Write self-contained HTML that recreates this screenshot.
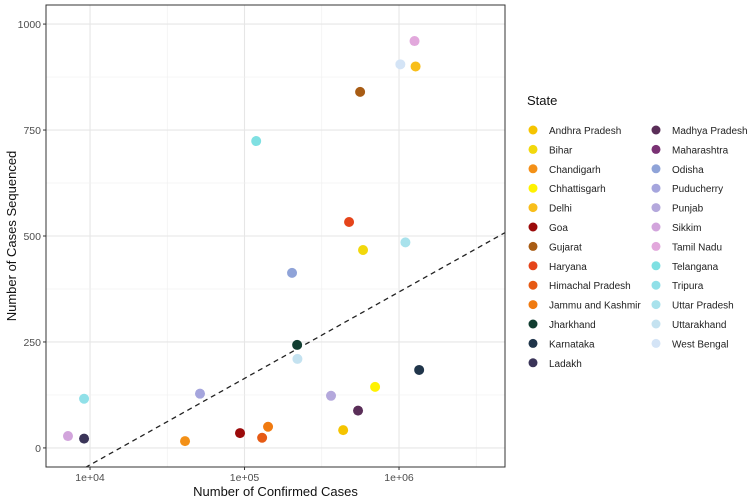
<!DOCTYPE html>
<html><head><meta charset="utf-8"><style>
body{margin:0;background:#fff;font-family:"Liberation Sans",sans-serif}
svg{display:block}
</style></head><body>
<svg id="c" width="750" height="501"></svg>
<script>
const states=["Andhra Pradesh","Bihar","Chandigarh","Chhattisgarh","Delhi","Goa","Gujarat","Haryana","Himachal Pradesh","Jammu and Kashmir","Jharkhand","Karnataka","Ladakh","Madhya Pradesh","Maharashtra","Odisha","Puducherry","Punjab","Sikkim","Tamil Nadu","Telangana","Tripura","Uttar Pradesh","Uttarakhand","West Bengal"];
const colors=["#F5C400","#F2D80C","#F39017","#FFF200","#F8BE1A","#9B0A0A","#A85C14","#E5441A","#E65A14","#F07A10","#113D30","#20354A","#3A3458","#5A2E58","#7A3274","#8FA3D8","#A5A5DD","#B4A8DC","#D2A4DC","#E2A8DC","#7FE0E2","#90E0E8","#A8E2EC","#C4E2F0","#D4E4F6"];
const confirmed=[435000,585000,41200,700000,1280000,93500,560000,475000,130000,142000,219000,1350000,9150,543000,null,203000,51500,363000,7200,1260000,119000,9150,1100000,220000,1020000];
const sequenced=[42,467,16,144,900,35,840,533,24,50,243,184,22,88,null,413,128,123,28,960,724,116,485,210,905];
const xTicks=[1e4,1e5,1e6];
const xTickLabels=["1e+04","1e+05","1e+06"];
const yTicks=[0,250,500,750,1000];
const lineIntercept=-856, lineSlope=204;
const L=46,R=505,T=5,B=467;
const xMin=3.715,xMax=6.686,yMin=-45,yMax=1045;
const sx=v=>L+(Math.log10(v)-xMin)/(xMax-xMin)*(R-L);
const sxl=l=>L+(l-xMin)/(xMax-xMin)*(R-L);
const sy=v=>B-(v-yMin)/(yMax-yMin)*(B-T);
const svg=document.getElementById('c');const NS="http://www.w3.org/2000/svg";
function el(t,a,p){const e=document.createElementNS(NS,t);for(const k in a)e.setAttribute(k,a[k]);(p||svg).appendChild(e);return e;}
for(let i=0;i<xTicks.length;i++){const lg=Math.log10(xTicks[i]);
 const g=el('line',{x1:sx(xTicks[i]),x2:sx(xTicks[i]),y1:T,y2:B,stroke:'#e6e6e6','stroke-width':1.1});
 
 const m=el('line',{x1:sxl(lg+0.5),x2:sxl(lg+0.5),y1:T,y2:B,stroke:'#f0f0f0','stroke-width':0.7});
 }
for(let i=0;i<yTicks.length;i++){
 const g=el('line',{x1:L,x2:R,y1:sy(yTicks[i]),y2:sy(yTicks[i]),stroke:'#e6e6e6','stroke-width':1.1});
 
 if(i<yTicks.length-1){const m=el('line',{x1:L,x2:R,y1:sy(yTicks[i]+125),y2:sy(yTicks[i]+125),stroke:'#f0f0f0','stroke-width':0.7});
 }
 const tk=el('line',{x1:L-3,x2:L,y1:sy(yTicks[i]),y2:sy(yTicks[i]),stroke:'#333'});
 
 const t=el('text',{x:L-5,y:sy(yTicks[i])+4,'text-anchor':'end','font-size':10.5,fill:'#4d4d4d'});t.textContent=yTicks[i];
 }
for(let i=0;i<xTicks.length;i++){
 const tk=el('line',{x1:sx(xTicks[i]),x2:sx(xTicks[i]),y1:B,y2:B+3,stroke:'#333'});
 
 const t=el('text',{x:sx(xTicks[i]),y:B+14,'text-anchor':'middle','font-size':10.5,fill:'#4d4d4d'});t.textContent=xTickLabels[i];
 }
const cp=el('clipPath',{id:'cp'});el('rect',{x:L,y:T,width:R-L,height:B-T},cp);
const dl=el('line',{x1:sxl(xMin),y1:sy(lineIntercept+lineSlope*xMin),x2:sxl(xMax),y2:sy(lineIntercept+lineSlope*xMax),stroke:'#222','stroke-width':1.3,'stroke-dasharray':'5,4','clip-path':'url(#cp)'});

for(let i=0;i<states.length;i++){if(confirmed[i]==null)continue;
 const c=el('circle',{cx:sx(confirmed[i]),cy:sy(sequenced[i]),r:5,fill:colors[i]});
 
 }
const bd=el('rect',{x:L,y:T,width:R-L,height:B-T,fill:'none',stroke:'#333','stroke-width':1});

const xt=el('text',{x:(L+R)/2,y:496,'text-anchor':'middle','font-size':13,fill:'#111'});xt.textContent='Number of Confirmed Cases';

const yt=el('text',{x:0,y:0,'text-anchor':'middle','font-size':13,fill:'#111',transform:'translate(16,236) rotate(-90)'});yt.textContent='Number of Cases Sequenced';

const lt=el('text',{x:527,y:105,'font-size':13,fill:'#111'});lt.textContent='State';

for(let i=0;i<states.length;i++){const col=i<13?0:1,row=i<13?i:i-13;
 const x=col?656:533,y=130+row*19.4;
 const g=el('g',{});
 el('circle',{cx:x,cy:y,r:4.5,fill:colors[i]},g);
 const t=el('text',{x:x+16,y:y+4,'font-size':10,fill:'#222'},g);t.textContent=states[i];}
</script>
</body></html>
